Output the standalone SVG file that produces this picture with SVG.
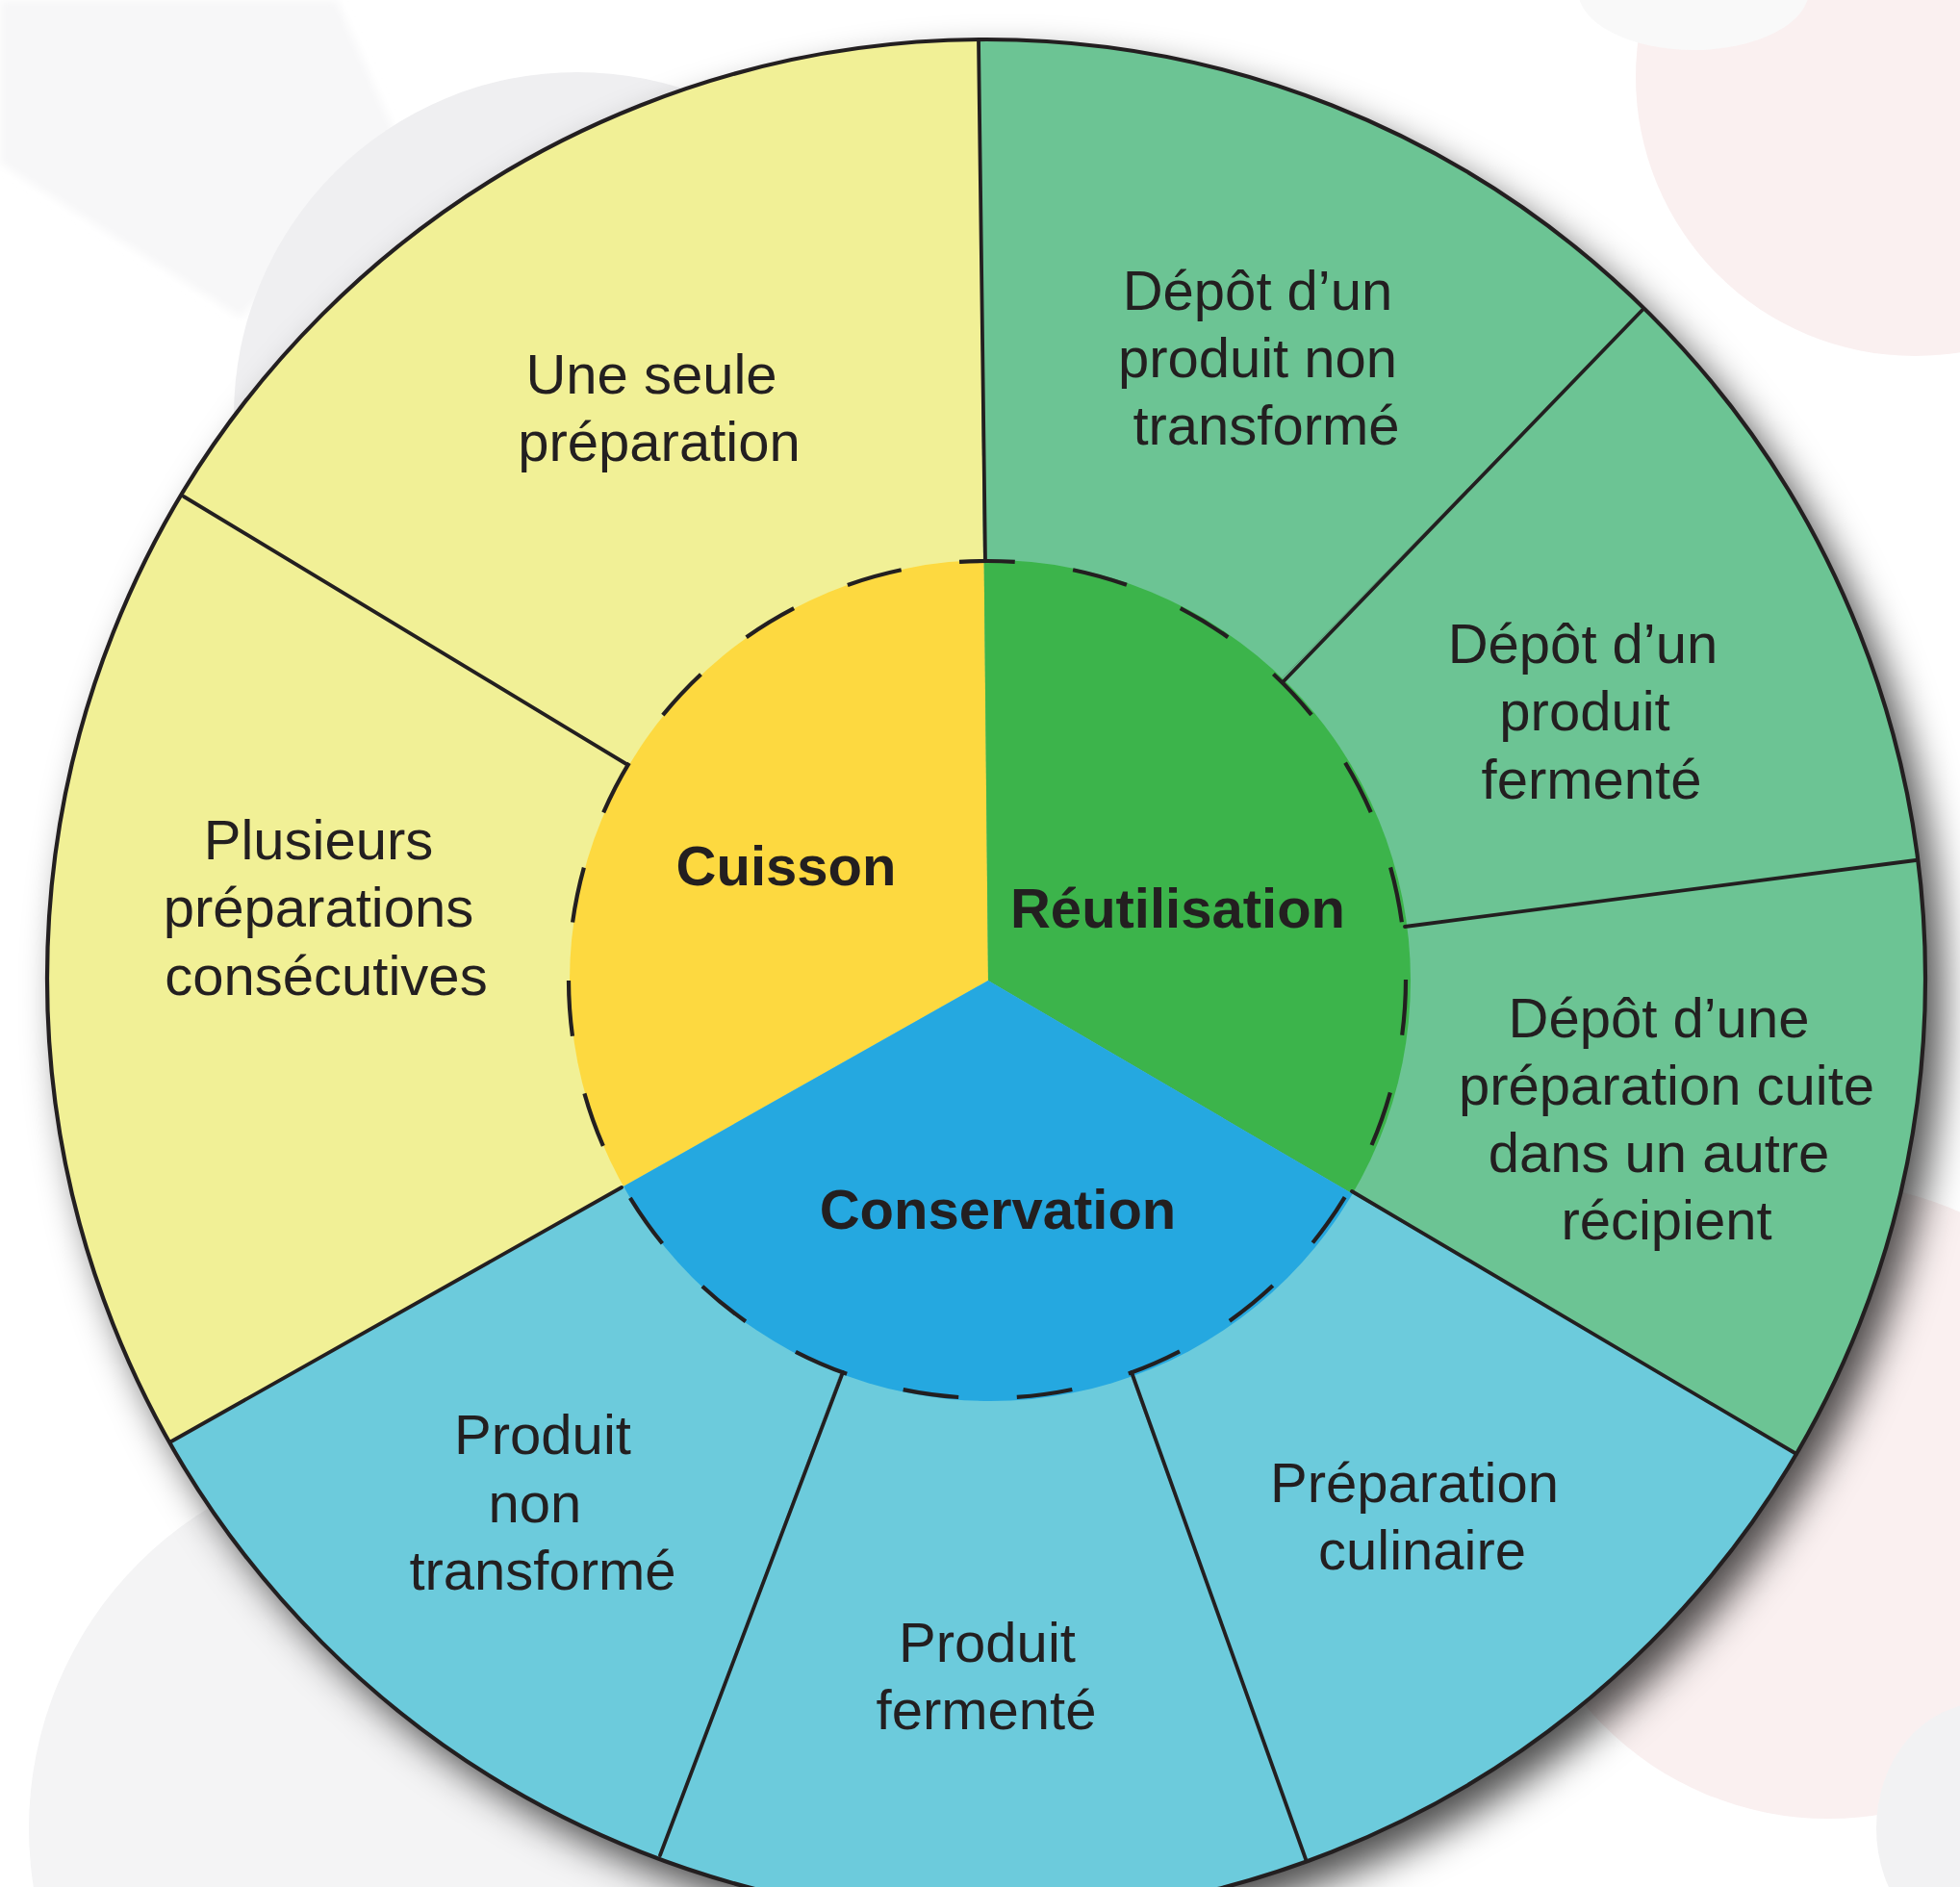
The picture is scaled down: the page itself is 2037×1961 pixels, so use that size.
<svg xmlns="http://www.w3.org/2000/svg" width="2037" height="1961" viewBox="0 0 2037 1961">
<defs>
<style>
.lbl{font-family:"Liberation Sans",Arial,Helvetica,sans-serif;font-size:58px;fill:#231f20;text-anchor:middle}
.hub{font-weight:bold}
.spoke{stroke:#231f20;stroke-width:3.8;stroke-linecap:round;fill:none}
.ly{fill:#f1f096}
.lg{fill:#6cc494}
.lb{fill:#6ccbdc}
</style>
<clipPath id="outerClip"><circle cx="1025" cy="1017" r="976"/></clipPath>
<clipPath id="innerClip"><circle cx="1029" cy="1019" r="437"/></clipPath>
<filter id="blur" x="-20%" y="-20%" width="140%" height="140%"><feGaussianBlur stdDeviation="20"/></filter>
<filter id="soft" x="-20%" y="-20%" width="140%" height="140%"><feGaussianBlur stdDeviation="4"/></filter>
</defs>
<rect width="2037" height="1961" fill="#ffffff"/>
<g id="background">
<polygon points="110,0 350,0 420,160 250,330 0,170 0,0" fill="#f7f7f8" filter="url(#soft)"/>
<circle cx="600" cy="432" r="357" fill="#efeff1"/>
<circle cx="1990" cy="80" r="290" fill="#faf0f0"/>
<ellipse cx="1760" cy="-10" rx="120" ry="62" fill="#f9f9f9"/>
<circle cx="420" cy="1900" r="390" fill="#f4f4f5"/>
<circle cx="1900" cy="1560" r="330" fill="#faf0f0"/>
<ellipse cx="2060" cy="1900" rx="110" ry="130" fill="#f2f2f3"/>
</g>
<circle id="wheel-shadow" cx="1042" cy="1038" r="976" fill="#000000" fill-opacity="0.7" filter="url(#blur)"/>
<g id="segments" clip-path="url(#outerClip)">
<g id="seg-une-seule">
<polygon class="ly" points="1026,1018 -88,348 1014,-282"/>
</g>
<g id="seg-plusieurs">
<polygon class="ly" points="1026,1018 -105,1658 -88,348"/>
</g>
<g id="seg-produit-non-transforme">
<polygon class="lb" points="1026,1018 571,2236 -105,1658"/>
</g>
<g id="seg-produit-fermente">
<polygon class="lb" points="1026,1018 1469,2240 571,2236"/>
</g>
<g id="seg-preparation-culinaire">
<polygon class="lb" points="1026,1018 2148,1675 1469,2240"/>
</g>
<g id="seg-depot-preparation">
<polygon class="lg" points="1026,1018 2315,852 2148,1675"/>
</g>
<g id="seg-depot-fermente">
<polygon class="lg" points="1026,1018 1935,89 2315,852"/>
</g>
<g id="seg-depot-non-transforme">
<polygon class="lg" points="1026,1018 1014,-282 1935,89"/>
</g>
</g>
<g id="hubs" clip-path="url(#innerClip)">
<g id="hub-cuisson"><polygon fill="#fdd940" points="1027,1019 -105,1658 -88,348 1014,-282"/></g>
<g id="hub-reutilisation"><polygon fill="#3cb44b" points="1027,1019 1014,-282 1935,89 2315,852 2148,1675"/></g>
<g id="hub-conservation"><polygon fill="#25a8e0" points="1027,1019 2148,1675 1469,2240 571,2236 -105,1658"/></g>
</g>
<g id="connectors">
<line class="spoke" x1="1017" y1="42" x2="1024" y2="583"/>
<line class="spoke" x1="1707" y1="322" x2="1334" y2="708"/>
<line class="spoke" x1="1991" y1="894" x2="1460" y2="963"/>
<line class="spoke" x1="1867" y1="1511" x2="1405" y2="1238"/>
<line class="spoke" x1="1357" y1="1932" x2="1176" y2="1426"/>
<line class="spoke" x1="686" y1="1928" x2="876" y2="1426"/>
<line class="spoke" x1="178" y1="1498" x2="646" y2="1234"/>
<line class="spoke" x1="191" y1="516" x2="651" y2="794"/>
<circle cx="1026" cy="1018" r="435" fill="none" stroke="#231f20" stroke-width="4.2" stroke-dasharray="58 60.84"/>
</g>
<circle id="rim" cx="1025" cy="1017" r="976" fill="none" stroke="#231f20" stroke-width="4.2"/>
<g id="labels">
<text class="lbl"><tspan x="677" y="409">Une seule</tspan><tspan x="685" y="479">préparation</tspan></text>
<text class="lbl"><tspan x="331" y="893">Plusieurs</tspan><tspan x="331" y="963">préparations</tspan><tspan x="339" y="1034">consécutives</tspan></text>
<text class="lbl"><tspan x="1307" y="322">Dépôt d’un</tspan><tspan x="1307" y="392">produit non</tspan><tspan x="1316" y="462">transformé</tspan></text>
<text class="lbl"><tspan x="1645" y="689">Dépôt d’un</tspan><tspan x="1647" y="759">produit</tspan><tspan x="1654" y="830">fermenté</tspan></text>
<text class="lbl"><tspan x="1724" y="1078">Dépôt d’une</tspan><tspan x="1732" y="1148">préparation cuite</tspan><tspan x="1724" y="1218">dans un autre</tspan><tspan x="1732" y="1288">récipient</tspan></text>
<text class="lbl"><tspan x="1470" y="1561">Préparation</tspan><tspan x="1478" y="1631">culinaire</tspan></text>
<text class="lbl"><tspan x="1026" y="1727">Produit</tspan><tspan x="1025" y="1797">fermenté</tspan></text>
<text class="lbl"><tspan x="564" y="1511">Produit</tspan><tspan x="556" y="1582">non</tspan><tspan x="564" y="1652">transformé</tspan></text>
<text class="lbl hub" x="817" y="920">Cuisson</text>
<text class="lbl hub" x="1224" y="964">Réutilisation</text>
<text class="lbl hub" x="1037" y="1277">Conservation</text>
</g>
</svg>
